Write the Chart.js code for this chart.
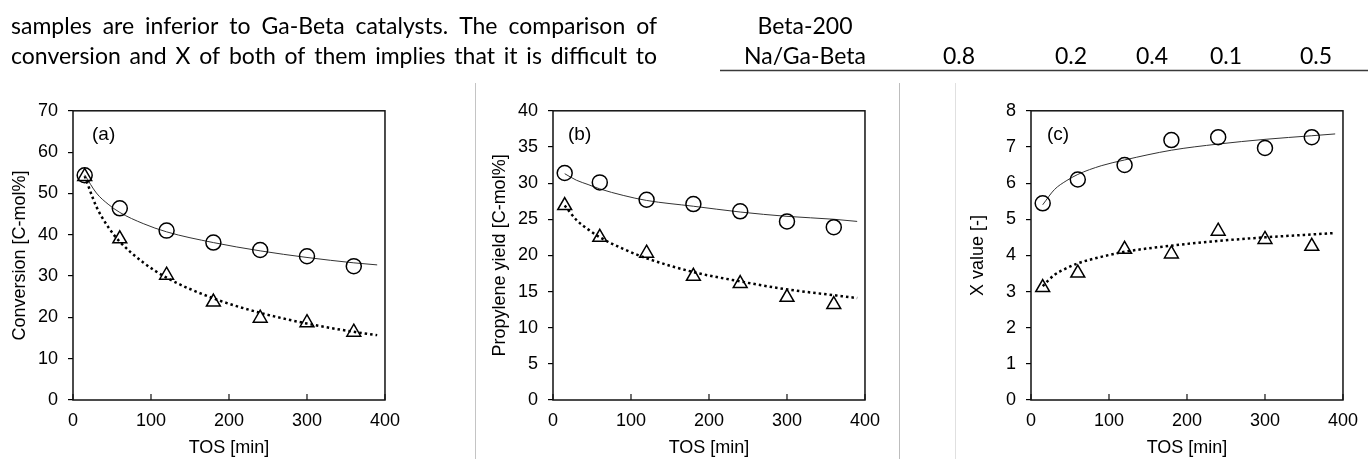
<!DOCTYPE html>
<html>
<head>
<meta charset="utf-8">
<script src="https://cdn.jsdelivr.net/npm/chart.js@4.4.1/dist/chart.umd.min.js"></script>
<style>
  body { margin: 0; width: 1368px; height: 459px; background: #fff; position: relative; overflow: hidden; }
  canvas { position: absolute; }
  #bg { left: 0; top: 0; }
  #chartA { left: 0; top: 90px; }
  #chartB { left: 480px; top: 90px; }
  #chartC { left: 958px; top: 90px; }
</style>
</head>
<body>
<canvas id="bg" width="1368" height="459"></canvas>
<canvas id="chartA" width="410" height="369"></canvas>
<canvas id="chartB" width="410" height="369"></canvas>
<canvas id="chartC" width="410" height="369"></canvas>
<script>
// measured points (TOS in min)
const tos = [15, 60, 120, 180, 240, 300, 360];
const convCircle = [54.4, 46.4, 41.0, 38.1, 36.3, 34.8, 32.4];
const convTriangle = [54.1, 39.0, 30.2, 23.7, 19.8, 18.7, 16.4];
const yieldCircle = [31.4, 30.1, 27.7, 27.1, 26.1, 24.7, 23.9];
const yieldTriangle = [26.9, 22.5, 20.3, 17.1, 16.1, 14.2, 13.2];
const xCircle = [5.44, 6.10, 6.50, 7.19, 7.27, 6.97, 7.27];
const xTriangle = [3.11, 3.51, 4.17, 4.04, 4.67, 4.44, 4.25];

// trend curves
const trendTos = [15, 30, 45, 60, 90, 120, 180, 240, 300, 360, 390];
const convTrendCircle = [54.5, 50.1, 47.4, 45.4, 42.7, 40.7, 38.1, 36.1, 34.5, 33.2, 32.7];
const convTrendTriangle = [54.2, 46.8, 41.9, 38.3, 33.3, 29.6, 24.6, 21.1, 18.5, 16.5, 15.7];
const yieldTrendCircle = [31.3, 30.4, 29.8, 29.2, 28.3, 27.6, 26.8, 26.0, 25.4, 25.0, 24.7];
const yieldTrendTriangle = [26.9, 24.9, 23.6, 22.5, 20.9, 19.6, 17.7, 16.4, 15.3, 14.5, 14.1];
const xTrendCircle = [5.40, 5.82, 6.06, 6.24, 6.48, 6.64, 6.91, 7.08, 7.21, 7.31, 7.36];
const xTrendTriangle = [3.15, 3.46, 3.64, 3.78, 3.96, 4.10, 4.27, 4.40, 4.50, 4.58, 4.62];

const xTicks = [0, 100, 200, 300, 400];
const textLines = [
  'samples are inferior to Ga-Beta catalysts. The comparison of',
  'conversion and X of both of them implies that it is difficult to'
];
const tableRowNames = ['Beta-200', 'Na/Ga-Beta'];
const tableValues = ['0.8', '0.2', '0.4', '0.1', '0.5'];

// ---- page background: text, table rule, separators
const bg = document.getElementById('bg').getContext('2d');
bg.fillStyle = '#000';
bg.font = '23px Lato';
function justify(str, x0, x1, y) {
  const words = str.split(' ');
  const w = words.reduce((s, t) => s + bg.measureText(t).width, 0);
  const gap = (x1 - x0 - w) / (words.length - 1);
  let x = x0;
  words.forEach(t => { bg.fillText(t, x, y); x += bg.measureText(t).width + gap; });
}
justify(textLines[0], 11, 657, 34);
justify(textLines[1], 11, 657, 64);
bg.textAlign = 'center';
bg.fillText(tableRowNames[0], 805, 34);
bg.fillText(tableRowNames[1], 805, 64);
const valueX = [959, 1071, 1152, 1226, 1316];
tableValues.forEach((v, i) => bg.fillText(v, valueX[i], 64));
bg.strokeStyle = '#3a3a3a';
bg.lineWidth = 1.5;
bg.beginPath(); bg.moveTo(720, 70.5); bg.lineTo(1368, 70.5); bg.stroke();
[[475.5, '#c4c4c4'], [899.5, '#bdbdbd'], [955.5, '#e0e0e0']].forEach(([x, c]) => {
  bg.strokeStyle = c; bg.lineWidth = 1;
  bg.beginPath(); bg.moveTo(x, 83); bg.lineTo(x, 459); bg.stroke();
});

// ---- charts
Chart.defaults.font.family = "'Liberation Sans', Arial, sans-serif";
Chart.defaults.color = '#000';

const frame = {
  id: 'frame',
  beforeDatasetsDraw(chart, args, opts) {
    const { ctx, chartArea: a, scales: { x } } = chart;
    ctx.save();
    ctx.strokeStyle = '#111';
    ctx.lineWidth = 1.5;
    ctx.strokeRect(a.left, a.top, a.right - a.left, a.bottom - a.top);
    ctx.lineWidth = 1.2;
    x.ticks.forEach(t => {
      const px = x.getPixelForValue(t.value);
      ctx.beginPath(); ctx.moveTo(px, a.bottom); ctx.lineTo(px, a.bottom - 6); ctx.stroke();
    });
    ctx.fillStyle = '#000';
    ctx.font = "19px 'Liberation Sans', Arial";
    ctx.textBaseline = 'middle';
    ctx.fillText(opts.label, a.left + opts.dx, a.top + 23.5);
    ctx.restore();
  }
};

function pts(xs, ys) { return xs.map((v, i) => ({ x: v, y: ys[i] })); }

function panel(id, label, dx, yMax, yStep, yTitle, circ, tri, trC, trT) {
  new Chart(document.getElementById(id), {
    type: 'scatter',
    data: {
      datasets: [
        { data: pts(tos, circ), pointStyle: 'circle', pointRadius: 7.5, pointBorderWidth: 1.5,
          pointBorderColor: '#000', pointBackgroundColor: 'rgba(0,0,0,0)', showLine: false },
        { data: pts(tos, tri), pointStyle: 'triangle', pointRadius: 8, pointBorderWidth: 1.5,
          pointBorderColor: '#000', pointBackgroundColor: 'rgba(0,0,0,0)', showLine: false },
        { data: pts(trendTos, trC), showLine: true, pointRadius: 0, borderColor: '#333',
          borderWidth: 1, cubicInterpolationMode: 'monotone' },
        { data: pts(trendTos, trT), showLine: true, pointRadius: 0, borderColor: '#000',
          borderWidth: 2.5, borderDash: [2.5, 3], cubicInterpolationMode: 'monotone' }
      ]
    },
    options: {
      responsive: false,
      animation: false,
      events: [],
      layout: { padding: { top: 13, right: 17, left: 0, bottom: 0 } },
      plugins: { legend: { display: false }, tooltip: { enabled: false }, frame: { label, dx } },
      scales: {
        x: {
          type: 'linear', min: 0, max: 400,
          afterBuildTicks: s => { s.ticks = xTicks.map(v => ({ value: v })); },
          afterFit: s => { s.height = 59; },
          ticks: { font: { size: 18 }, padding: 10, color: '#000' },
          grid: { drawOnChartArea: false, drawTicks: false },
          border: { display: false },
          title: { display: true, text: 'TOS [min]', font: { size: 18 }, padding: { top: 0, bottom: 0 }, color: '#000' }
        },
        y: {
          min: 0, max: yMax,
          afterFit: s => { s.width = 73; },
          ticks: { stepSize: yStep, font: { size: 18 }, padding: 10, color: '#000' },
          grid: { drawOnChartArea: false, drawTicks: true, tickLength: 5, color: '#000', lineWidth: 1.2 },
          border: { display: false },
          title: { display: true, text: yTitle, font: { size: 18 }, padding: { top: 9, bottom: 0 }, color: '#000' }
        }
      }
    },
    plugins: [frame]
  });
}

panel('chartA', '(a)', 19, 70, 10, 'Conversion [C-mol%]', convCircle, convTriangle, convTrendCircle, convTrendTriangle);
panel('chartB', '(b)', 15, 40, 5, 'Propylene yield [C-mol%]', yieldCircle, yieldTriangle, yieldTrendCircle, yieldTrendTriangle);
panel('chartC', '(c)', 16, 8, 1, 'X value [-]', xCircle, xTriangle, xTrendCircle, xTrendTriangle);
</script>
</body>
</html>
